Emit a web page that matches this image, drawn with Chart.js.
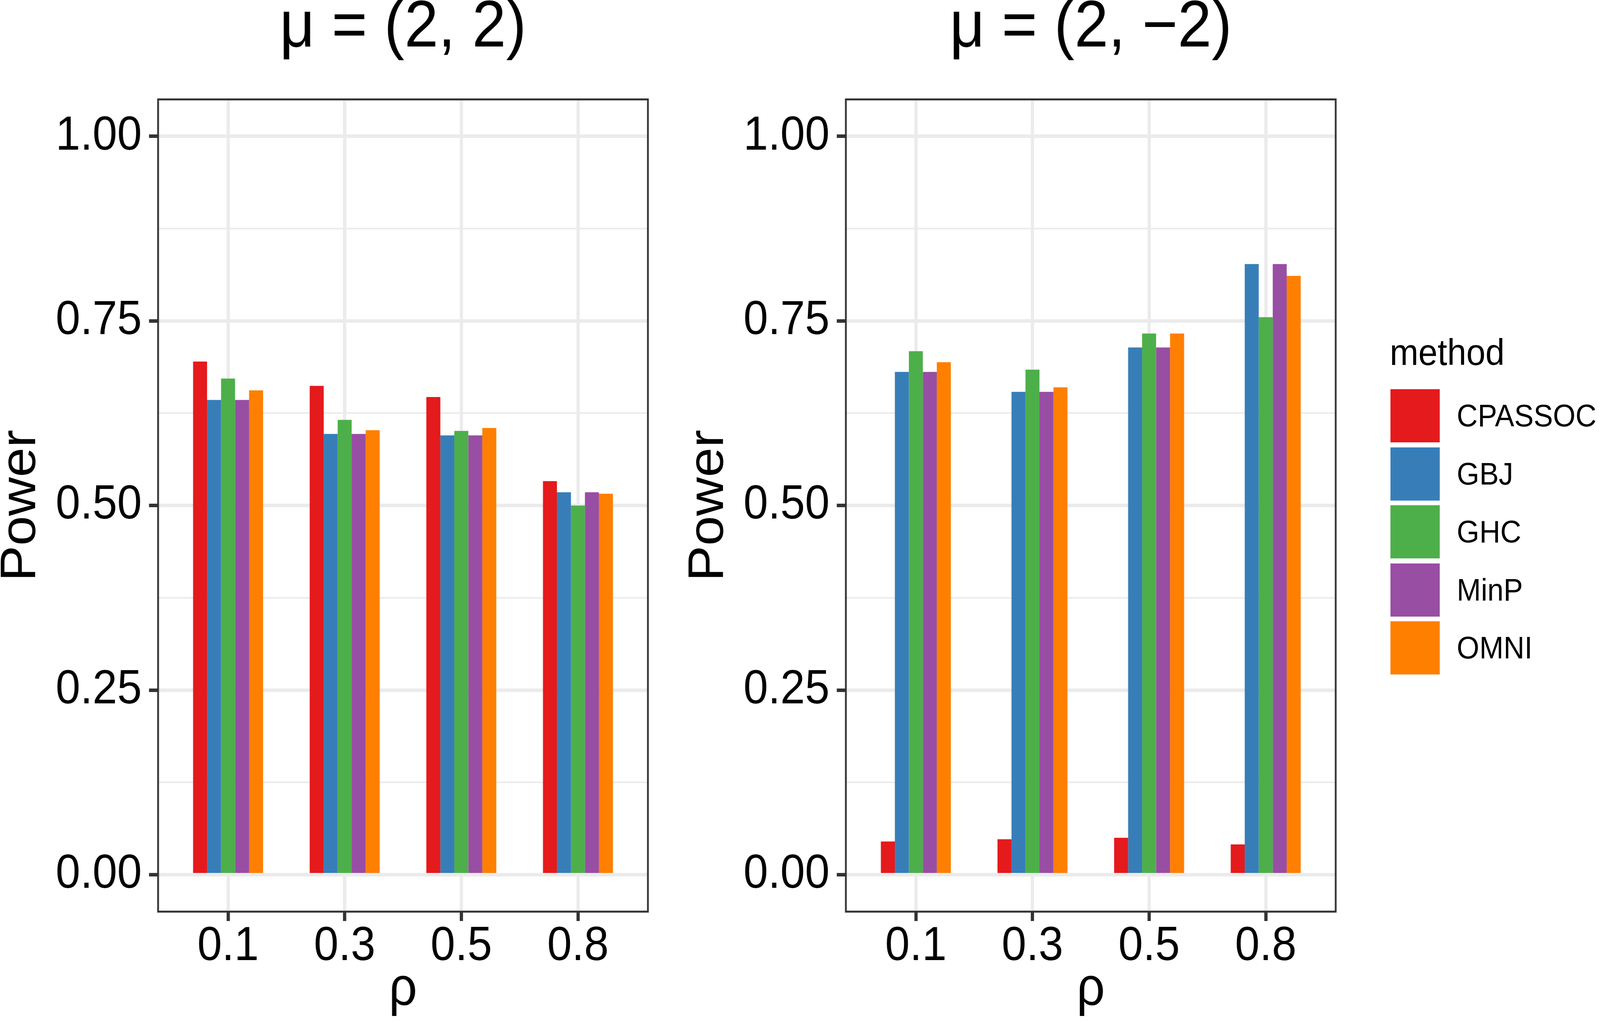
<!DOCTYPE html>
<html>
<head>
<meta charset="utf-8">
<script src="https://cdn.jsdelivr.net/npm/chart.js@4.4.1/dist/chart.umd.min.js"></script>
<style>
  html, body { margin: 0; background: #fff; overflow: hidden; font-family: "Liberation Sans", Arial, sans-serif; }
  #stage { position: absolute; left: 0; top: 0; width: 4413px; height: 2618px; transform-origin: 0 0; background: #fff; }
  canvas { position: absolute; top: 0; }
  .leg-title { position: absolute; font-size: 95px; line-height: 95px; color: #000; white-space: nowrap; }
  .leg-key { position: absolute; width: 136px; height: 136px; }
  .leg-label { position: absolute; font-size: 80px; line-height: 136px; height: 136px; color: #000; white-space: nowrap; }
</style>
</head>
<body>
<div id="stage">
  <canvas id="sameChart" width="1800" height="2618" style="left:0;width:1800px;height:2618px"></canvas>
  <canvas id="oppChart" width="1800" height="2618" style="left:1897px;width:1800px;height:2618px"></canvas>
  <div id="legend"></div>
</div>
<script>
// categories and series
const rhoLabels = ['0.1', '0.3', '0.5', '0.8'];
const methods = ['CPASSOC', 'GBJ', 'GHC', 'MinP', 'OMNI'];
const methodColors = ['#E41A1C', '#377EB8', '#4DAF4A', '#984EA3', '#FF7F00'];

// mu = (2, 2)
const cpassocSame = [0.695, 0.662, 0.647, 0.533];
const gbjSame = [0.643, 0.597, 0.595, 0.518];
const ghcSame = [0.672, 0.616, 0.601, 0.500];
const minpSame = [0.643, 0.597, 0.595, 0.518];
const omniSame = [0.656, 0.602, 0.605, 0.516];

// mu = (2, -2)
const cpassocOpp = [0.045, 0.048, 0.050, 0.041];
const gbjOpp = [0.681, 0.654, 0.714, 0.827];
const ghcOpp = [0.709, 0.684, 0.733, 0.755];
const minpOpp = [0.681, 0.654, 0.714, 0.827];
const omniOpp = [0.694, 0.660, 0.733, 0.811];

// y axis ticks (labelled ones), minor lines fall halfway between
const yTicks = [0, 0.25, 0.5, 0.75, 1];

// the page is laid out at 4413x2618; fit it to whatever viewport we get
const stage = document.getElementById('stage');
stage.style.transform = 'scale(' + (window.innerWidth / 4413) + ',' + (window.innerHeight / 2618) + ')';

Chart.defaults.font.family = '"Liberation Sans", Arial, sans-serif';
Chart.defaults.color = '#000';

const panelBorder = {
  id: 'panelBorder',
  afterDatasetsDraw(chart) {
    const { ctx, chartArea: a } = chart;
    ctx.save();
    ctx.strokeStyle = '#333333';
    ctx.lineWidth = 5;
    ctx.strokeRect(a.left, a.top, a.width, a.height);
    ctx.restore();
  }
};

function isMajor(v) {
  return yTicks.some(t => Math.abs(t - v) < 1e-9);
}

function makeChart(id, titleText, series) {
  const datasets = methods.map((m, i) => ({
    label: m,
    data: series[i].map((v, j) => ({ x: j + 1, y: v })),
    backgroundColor: methodColors[i],
    borderWidth: 0,
    categoryPercentage: 0.6,
    barPercentage: 1.0
  }));

  return new Chart(document.getElementById(id), {
    type: 'bar',
    data: { datasets: datasets },
    plugins: [panelBorder],
    options: {
      responsive: false,
      devicePixelRatio: 1,
      animation: false,
      layout: { padding: { top: 0, left: 0, right: 13, bottom: 0 } },
      plugins: {
        legend: { display: false },
        tooltip: { enabled: false },
        title: {
          display: true,
          text: titleText,
          fullSize: false,
          color: '#000',
          font: { size: 168, weight: 'normal', lineHeight: 0.8 },
          padding: { top: 5, bottom: 115 }
        }
      },
      scales: {
        x: {
          type: 'linear',
          min: 0.4,
          max: 4.6,
          offset: false,
          afterBuildTicks: scale => {
            scale.ticks = rhoLabels.map((_, i) => ({ value: i + 1 }));
          },
          afterFit: scale => { scale.height = 285; },
          border: { display: false },
          grid: {
            offset: false,
            color: '#EBEBEB',
            lineWidth: 9,
            tickColor: '#333333',
            tickWidth: 9,
            tickLength: 24
          },
          ticks: {
            autoSkip: false,
            maxRotation: 0,
            padding: 5,
            color: '#000',
            font: { size: 122, lineHeight: 1.0 },
            callback: v => rhoLabels[v - 1]
          },
          title: {
            display: true,
            text: 'ρ',
            color: '#000',
            font: { size: 137, lineHeight: 1.0 },
            padding: { top: 0, bottom: 15 }
          }
        },
        y: {
          type: 'linear',
          min: -0.05,
          max: 1.05,
          afterBuildTicks: scale => {
            const vals = [];
            yTicks.forEach((t, i) => {
              vals.push(t);
              if (i < yTicks.length - 1) vals.push((t + yTicks[i + 1]) / 2);
            });
            scale.ticks = vals.map(v => ({ value: v }));
          },
          afterFit: scale => { scale.width = 436; },
          border: { display: false },
          grid: {
            color: '#EBEBEB',
            lineWidth: c => (isMajor(c.tick.value) ? 9 : 4),
            tickColor: c => (isMajor(c.tick.value) ? '#333333' : 'rgba(0,0,0,0)'),
            tickWidth: 9,
            tickLength: 25
          },
          ticks: {
            autoSkip: false,
            padding: 20,
            color: '#000',
            font: { size: 122, lineHeight: 1.0 },
            callback: v => (isMajor(v) ? v.toFixed(2) : '')
          },
          title: {
            display: true,
            text: 'Power',
            color: '#000',
            font: { size: 137, lineHeight: 0.8 },
            padding: { top: 4, bottom: 0 }
          }
        }
      }
    }
  });
}

makeChart('sameChart', 'μ = (2, 2)', [cpassocSame, gbjSame, ghcSame, minpSame, omniSame]);
makeChart('oppChart', 'μ = (2, −2)', [cpassocOpp, gbjOpp, ghcOpp, minpOpp, omniOpp]);

// legend
const legend = document.getElementById('legend');
const legLeft = 3835;
const legTop = 996;
const legStep = 148.5;
const title = document.createElement('div');
title.className = 'leg-title';
title.textContent = 'method';
title.style.left = '3833px';
title.style.top = '854px';
legend.appendChild(title);
methods.forEach((m, i) => {
  const key = document.createElement('div');
  key.className = 'leg-key';
  key.style.left = legLeft + 'px';
  key.style.top = (legTop + i * legStep) + 'px';
  key.style.background = methodColors[i];
  legend.appendChild(key);
  const lab = document.createElement('div');
  lab.className = 'leg-label';
  lab.textContent = m;
  lab.style.left = '4018px';
  lab.style.top = (legTop + i * legStep) + 'px';
  legend.appendChild(lab);
});
</script>
</body>
</html>
